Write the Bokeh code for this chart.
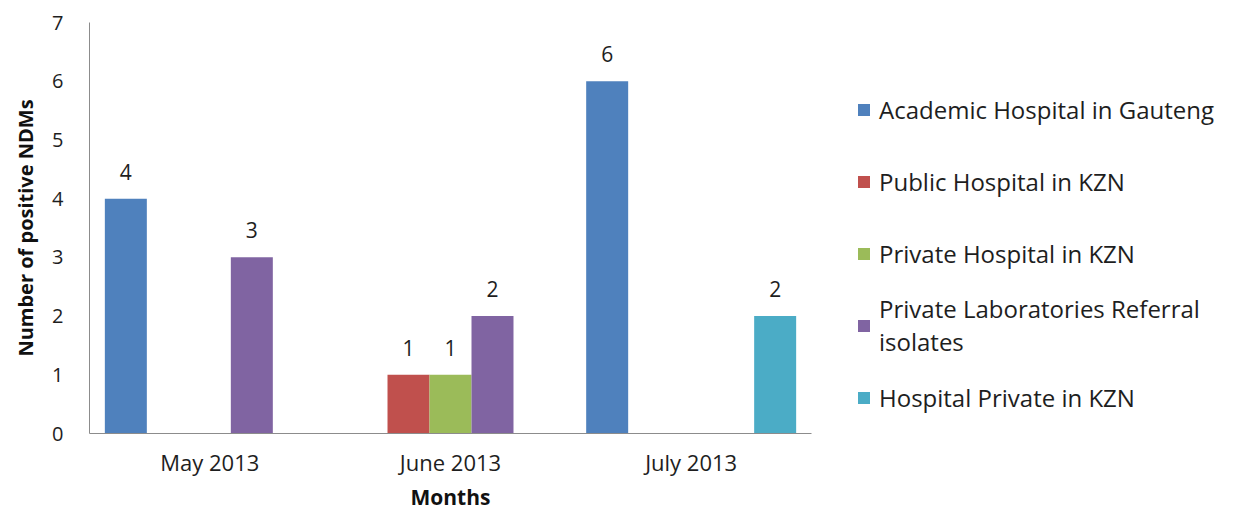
from bokeh.plotting import figure
from bokeh.models import ColumnDataSource, FactorRange, FixedTicker, Legend, LegendItem
from bokeh.transform import dodge
from bokeh.embed import file_html
from bokeh.resources import INLINE
from bokeh.core.properties import value

months = ["May 2013", "June 2013", "July 2013"]
series_names = [
    "Academic Hospital in Gauteng",
    "Public Hospital in KZN",
    "Private Hospital in KZN",
    "Private Laboratories Referral\nisolates",
    "Hospital Private in KZN",
]
academic_gauteng = [4, 0, 6]
public_kzn = [0, 1, 0]
private_kzn = [0, 1, 0]
private_lab_referral = [3, 2, 0]
hospital_private_kzn = [0, 0, 2]
y_ticks = [0, 1, 2, 3, 4, 5, 6, 7]

series_values = [academic_gauteng, public_kzn, private_kzn, private_lab_referral, hospital_private_kzn]
colors = ["#4F81BD", "#C0504D", "#9BBB59", "#8064A2", "#4BACC6"]

FONT = "Open Sans"
TXT = "#1e1e1e"
AXIS = "#8c8c8c"

p = figure(
    x_range=FactorRange(*months, range_padding=0),
    y_range=(0, 7),
    frame_width=722, frame_height=411,
    min_border_left=89, min_border_top=22, min_border_bottom=5, min_border_right=5,
    output_backend="svg", toolbar_location=None,
)
p.outline_line_color = None
p.xgrid.grid_line_color = None
p.ygrid.grid_line_color = None
p.background_fill_color = "white"

bw = 0.1745
items = []
for i, (name, vals, col) in enumerate(zip(series_names, series_values, colors)):
    src = ColumnDataSource(dict(
        month=months,
        val=vals,
        lbl=[str(v) if v else "" for v in vals],
    ))
    off = (i - 2) * bw
    r = p.vbar(x=dodge("month", off, range=p.x_range), top="val", bottom=0, width=bw,
               source=src, fill_color=col, line_color=None)
    p.text(x=dodge("month", off, range=p.x_range), y="val", text="lbl", source=src,
           text_align="center", text_baseline="alphabetic", y_offset=-27,
           text_font=value(FONT), text_font_size="21px", text_color=TXT)
    items.append(LegendItem(label=name, renderers=[r]))

# y axis
p.yaxis.ticker = FixedTicker(ticks=y_ticks)
p.yaxis.axis_label = "Number of positive NDMs"
p.yaxis.axis_label_text_font = FONT
p.yaxis.axis_label_text_font_style = "bold"
p.yaxis.axis_label_text_font_size = "20px"
p.yaxis.axis_label_text_color = "#111111"
p.yaxis.axis_label_standoff = 10
p.yaxis.major_label_text_font = FONT
p.yaxis.major_label_text_font_size = "20px"
p.yaxis.major_label_text_color = TXT
p.yaxis.major_label_standoff = 26
p.yaxis.major_tick_line_color = None
p.yaxis.major_tick_out = 0
p.yaxis.major_tick_in = 0
p.yaxis.minor_tick_line_color = None
p.yaxis.axis_line_color = AXIS

# x axis
p.xaxis.axis_label = "Months"
p.xaxis.axis_label_text_font = FONT
p.xaxis.axis_label_text_font_style = "bold"
p.xaxis.axis_label_text_font_size = "21px"
p.xaxis.axis_label_text_color = "#111111"
p.xaxis.axis_label_standoff = 3
p.xaxis.major_label_text_font = FONT
p.xaxis.major_label_text_font_size = "22px"
p.xaxis.major_label_text_color = TXT
p.xaxis.major_label_standoff = 13
p.xaxis.major_tick_line_color = None
p.xaxis.major_tick_out = 0
p.xaxis.major_tick_in = 0
p.xaxis.minor_tick_line_color = None
p.xaxis.axis_line_color = AXIS

legend = Legend(
    items=items,
    location=(45, 2),
    orientation="vertical",
    border_line_color=None,
    background_fill_alpha=0,
    glyph_width=15, glyph_height=15,
    label_standoff=8,
    label_height=68,
    spacing=4,
    padding=0,
    margin=0,
    label_text_font=FONT,
    label_text_font_size="24px",
    label_text_color=TXT,
)
p.add_layout(legend, "right")

open("out.html", "w").write(file_html(p, INLINE))
